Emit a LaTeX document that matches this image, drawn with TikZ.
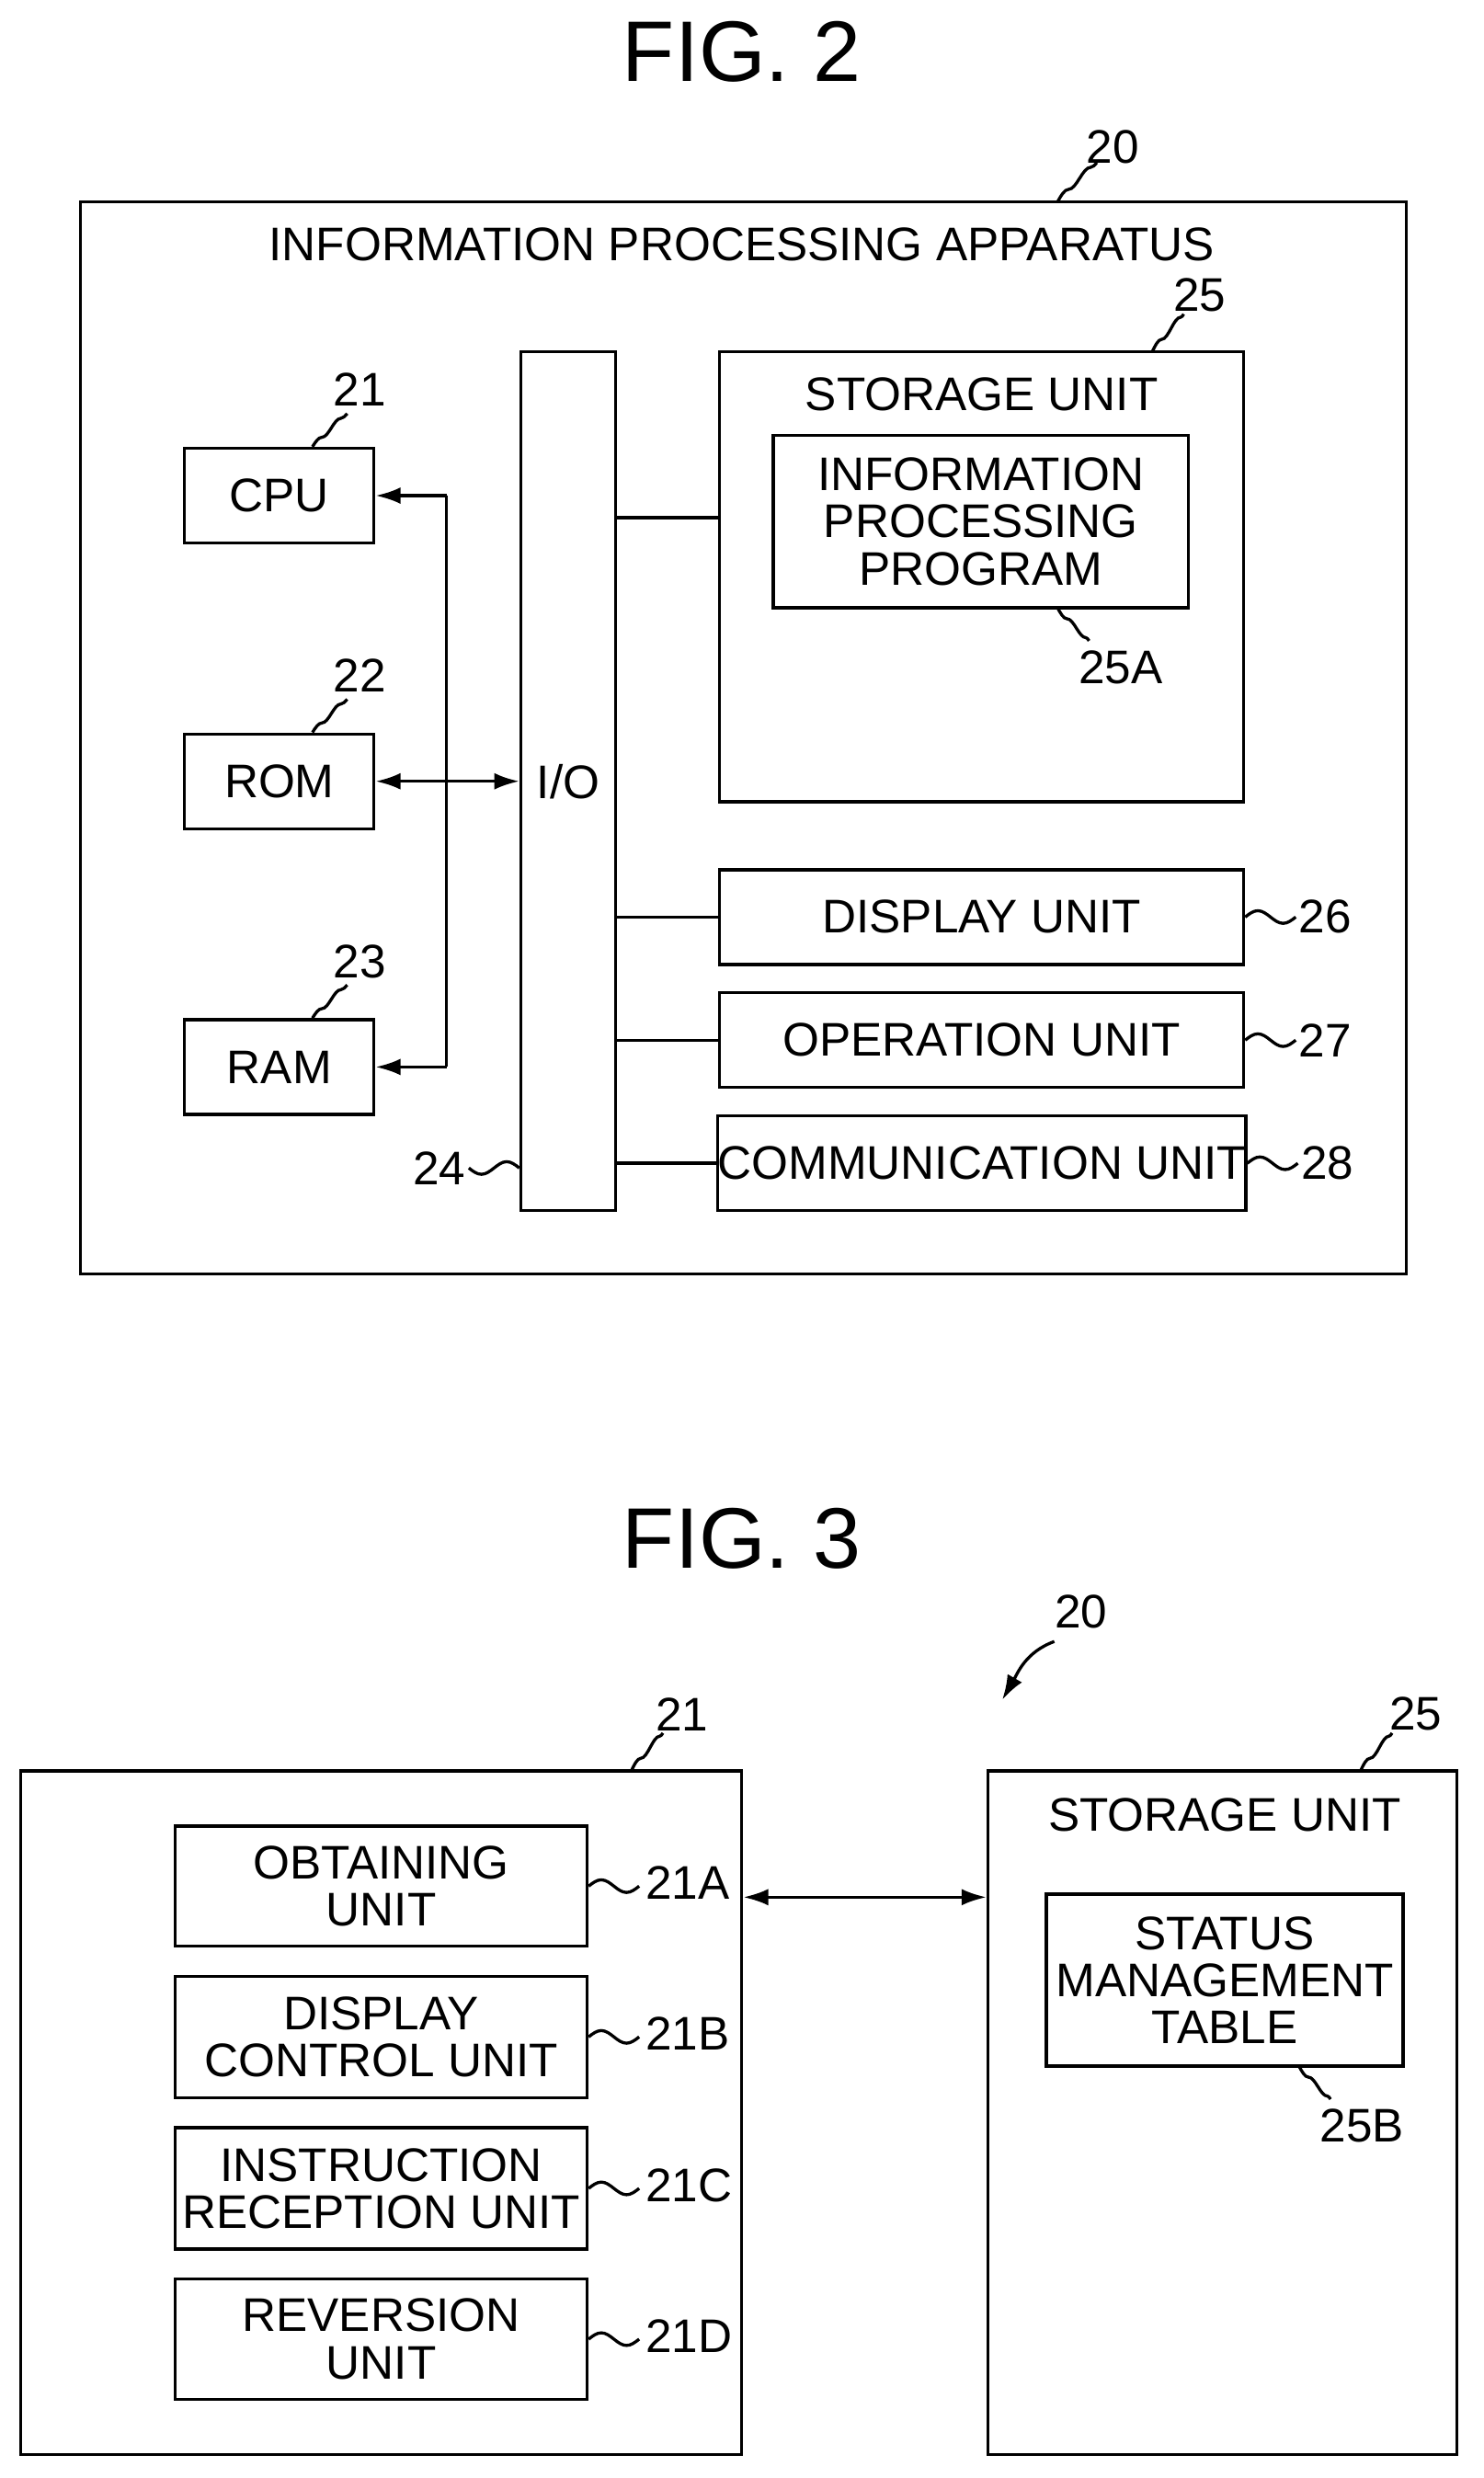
\documentclass[tikz,border=0pt]{standalone}
\usepackage{fontspec}
\setmainfont{Liberation Sans}
\usetikzlibrary{arrows.meta,positioning,calc}
\tikzset{
  box/.style={draw, line width=1.1pt, inner sep=0pt, font=\fontsize{17}{17}\selectfont, align=center},
  lbl/.style={font=\fontsize{17}{17}\selectfont, inner sep=1pt},
  fig/.style={font=\fontsize{31}{31}\selectfont},
  wire/.style={line width=1.1pt},
  arr/.style={line width=1.1pt, -{Latex[length=9pt,width=6pt]}},
  darr/.style={line width=1.1pt, {Latex[length=9pt,width=6pt]}-{Latex[length=9pt,width=6pt]}}
}
\newcommand{\boxat}[5]{\node[box, minimum width=#4*0.02cm, minimum height=#5*0.02cm] (#1) at (#2,#3)}
\begin{document}
\begin{tikzpicture}[x=0.02cm, y=-0.02cm]
  \useasboundingbox (0,0) rectangle (940,1570);
  % FIG. 2
  \node[fig] (f2) at (470,33) {FIG. 2};
  \boxat{app}{471}{467.5}{840}{679} {};
  \node[lbl] at (470,155) {INFORMATION PROCESSING APPARATUS};
  \node[lbl] (n20) at (705,93) {20};
  \draw[wire] (670,128) sin (677,120) cos (684,113) sin (691,106) cos (695,103);
  \boxat{io}{360}{495}{60}{544} {I/O};
  \boxat{stor}{622}{365.5}{332}{285} {};
  \node[lbl] at (622,250) {STORAGE UNIT};
  \boxat{prog}{621.5}{330.5}{263}{109} {INFORMATION\\PROCESSING\\PROGRAM};
  \node[lbl] (n25) at (760,187) {25};
  \draw[wire] (730,223) sin (736,215) cos (742,208) sin (748,201) cos (750,199);
  \node[lbl] (n25A) at (710,423) {25A};
  \draw[wire] (670,385) sin (676,392) cos (682,398) sin (688,404) cos (690,406);
  \boxat{disp}{622}{581}{332}{60} {DISPLAY UNIT};
  \boxat{oper}{622}{659}{332}{60} {OPERATION UNIT};
  \boxat{comm}{622}{737}{332}{60} {COMMUNICATION UNIT};
  \foreach \b/\n in {disp/26, oper/27, comm/28} {
    \node[lbl, right=32*0.02cm of \b.east] (n\n) {\n};
    \draw[wire] (\b.east) sin ++(8,-4) cos ++(8,4) sin ++(8,4) cos ++(8,-4);
  }
  \coordinate (y328) at (0,328);
  \draw[wire] (io.east |- y328) -- (stor.west |- y328);
  \foreach \b in {disp, oper, comm}
    \draw[wire] (io.east |- \b) -- (\b.west);
  \boxat{cpu}{177}{314}{120}{60} {CPU};
  \boxat{rom}{177}{495}{120}{60} {ROM};
  \boxat{ram}{177}{676}{120}{60} {RAM};
  \foreach \b/\n in {cpu/21, rom/22, ram/23} {
    \node[lbl] (n\n) at ($(\b.north east)+(-10,-36)$) {\n};
    \draw[wire] ($(\b.north east)+(-40,0)$) sin ++(6,-6) cos ++(6,-6) sin ++(6,-6) cos ++(4,-3);
  }
  \coordinate (bt) at (283,314);
  \coordinate (bb) at (283,676);
  \draw[wire] (bt) -- (bb);
  \draw[arr] (bt) -- (cpu.east);
  \draw[arr] (bb) -- (ram.east);
  \draw[darr] (rom.east) -- (io.west);
  \coordinate (y740) at (0,740);
  \coordinate (l24) at (io.west |- y740);
  \node[lbl, left=32*0.02cm of l24] (n24) {24};
  \draw[wire] (l24) sin ++(-8,-4) cos ++(-8,4) sin ++(-8,4) cos ++(-8,-4);
  % FIG. 3
  \node[fig] (f3) at (470,975) {FIG. 3};
  \node[lbl] (m20) at (685,1021) {20};
  \draw[arr] (668,1040) to[out=200, in=60] (635,1077);
  \boxat{cpu3}{241.5}{1338.5}{457}{433} {};
  \node[lbl] (m21) at (432,1086) {21};
  \draw[wire] (400,1122) sin (406,1114) cos (412,1107) sin (418,1100) cos (420,1098);
  \boxat{obt}{241.5}{1195}{261}{76} {OBTAINING\\UNIT};
  \boxat{dctl}{241.5}{1290.5}{261}{77} {DISPLAY\\CONTROL UNIT};
  \boxat{inst}{241.5}{1386.5}{261}{77} {INSTRUCTION\\RECEPTION UNIT};
  \boxat{rev}{241.5}{1482}{261}{76} {REVERSION\\UNIT};
  \foreach \b/\n in {obt/21A, dctl/21B, inst/21C, rev/21D} {
    \node[lbl, anchor=west] (m\n) at ($(\b.east)+(34,-2)$) {\n};
    \draw[wire] (\b.east) sin ++(8,-4) cos ++(8,4) sin ++(8,4) cos ++(8,-4);
  }
  \boxat{stor3}{774.5}{1338.5}{297}{433} {};
  \node[lbl] at (776,1150) {STORAGE UNIT};
  \node[lbl] (m25) at (897,1086) {25};
  \draw[wire] (862,1122) sin (868,1114) cos (874,1107) sin (880,1100) cos (882,1098);
  \boxat{tab}{776}{1254.5}{226}{109} {STATUS\\MANAGEMENT\\TABLE};
  \node[lbl] (m25B) at (863,1347) {25B};
  \draw[wire] (823,1309) sin (829,1316) cos (835,1322) sin (841,1328) cos (843,1330);
  \coordinate (y1202) at (0,1202);
  \draw[darr] (cpu3.east |- y1202) -- (stor3.west |- y1202);
\end{tikzpicture}
\end{document}
